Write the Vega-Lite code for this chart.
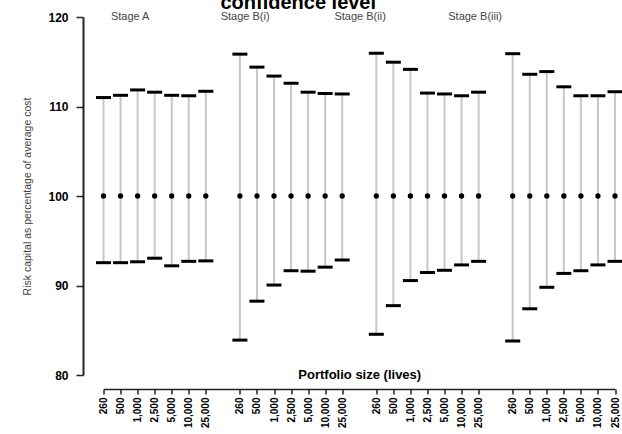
{
  "$schema": "https://vega.github.io/schema/vega-lite/v6.json",
  "width": 511.5,
  "height": 358,
  "autosize": {"type": "none"},
  "padding": {"left": 103.5, "top": 17, "right": 7, "bottom": 59},
  "background": "white",
  "config": {"font": "Liberation Sans", "view": {"stroke": null}},
  "title": {"text": "confidence level", "fontSize": 20, "fontWeight": "bold", "color": "black", "anchor": "middle", "frame": "group", "dx": -61, "dy": 6, "offset": 4},
  "datasets": {
    "ci": [
      {"key": "A|260", "stage": "Stage A", "size": "260", "low": 92.55, "high": 111.0, "mid": 100},
      {"key": "A|500", "stage": "Stage A", "size": "500", "low": 92.55, "high": 111.25, "mid": 100},
      {"key": "A|1,000", "stage": "Stage A", "size": "1,000", "low": 92.65, "high": 111.85, "mid": 100},
      {"key": "A|2,500", "stage": "Stage A", "size": "2,500", "low": 93.05, "high": 111.6, "mid": 100},
      {"key": "A|5,000", "stage": "Stage A", "size": "5,000", "low": 92.2, "high": 111.25, "mid": 100},
      {"key": "A|10,000", "stage": "Stage A", "size": "10,000", "low": 92.7, "high": 111.2, "mid": 100},
      {"key": "A|25,000", "stage": "Stage A", "size": "25,000", "low": 92.75, "high": 111.7, "mid": 100},
      {"key": "B(i)|260", "stage": "Stage B(i)", "size": "260", "low": 83.9, "high": 115.85, "mid": 100},
      {"key": "B(i)|500", "stage": "Stage B(i)", "size": "500", "low": 88.25, "high": 114.4, "mid": 100},
      {"key": "B(i)|1,000", "stage": "Stage B(i)", "size": "1,000", "low": 90.05, "high": 113.4, "mid": 100},
      {"key": "B(i)|2,500", "stage": "Stage B(i)", "size": "2,500", "low": 91.65, "high": 112.6, "mid": 100},
      {"key": "B(i)|5,000", "stage": "Stage B(i)", "size": "5,000", "low": 91.6, "high": 111.6, "mid": 100},
      {"key": "B(i)|10,000", "stage": "Stage B(i)", "size": "10,000", "low": 92.05, "high": 111.45, "mid": 100},
      {"key": "B(i)|25,000", "stage": "Stage B(i)", "size": "25,000", "low": 92.85, "high": 111.4, "mid": 100},
      {"key": "B(ii)|260", "stage": "Stage B(ii)", "size": "260", "low": 84.55, "high": 115.95, "mid": 100},
      {"key": "B(ii)|500", "stage": "Stage B(ii)", "size": "500", "low": 87.75, "high": 114.95, "mid": 100},
      {"key": "B(ii)|1,000", "stage": "Stage B(ii)", "size": "1,000", "low": 90.55, "high": 114.15, "mid": 100},
      {"key": "B(ii)|2,500", "stage": "Stage B(ii)", "size": "2,500", "low": 91.45, "high": 111.5, "mid": 100},
      {"key": "B(ii)|5,000", "stage": "Stage B(ii)", "size": "5,000", "low": 91.7, "high": 111.4, "mid": 100},
      {"key": "B(ii)|10,000", "stage": "Stage B(ii)", "size": "10,000", "low": 92.3, "high": 111.2, "mid": 100},
      {"key": "B(ii)|25,000", "stage": "Stage B(ii)", "size": "25,000", "low": 92.7, "high": 111.6, "mid": 100},
      {"key": "B(iii)|260", "stage": "Stage B(iii)", "size": "260", "low": 83.8, "high": 115.9, "mid": 100},
      {"key": "B(iii)|500", "stage": "Stage B(iii)", "size": "500", "low": 87.4, "high": 113.6, "mid": 100},
      {"key": "B(iii)|1,000", "stage": "Stage B(iii)", "size": "1,000", "low": 89.8, "high": 113.9, "mid": 100},
      {"key": "B(iii)|2,500", "stage": "Stage B(iii)", "size": "2,500", "low": 91.35, "high": 112.2, "mid": 100},
      {"key": "B(iii)|5,000", "stage": "Stage B(iii)", "size": "5,000", "low": 91.65, "high": 111.2, "mid": 100},
      {"key": "B(iii)|10,000", "stage": "Stage B(iii)", "size": "10,000", "low": 92.3, "high": 111.2, "mid": 100},
      {"key": "B(iii)|25,000", "stage": "Stage B(iii)", "size": "25,000", "low": 92.7, "high": 111.65, "mid": 100}
    ],
    "stages": [
      {"stage": "Stage A"},
      {"stage": "Stage B(i)"},
      {"stage": "Stage B(ii)"},
      {"stage": "Stage B(iii)"}
    ]
  },
  "layer": [
    {
      "data": {"name": "ci"},
      "encoding": {
        "x": {
          "field": "key",
          "type": "ordinal",
          "sort": null,
          "scale": {
            "type": "point",
            "padding": 0,
            "domain": ["A|260", "A|500", "A|1,000", "A|2,500", "A|5,000", "A|10,000", "A|25,000", "gap1",
                       "B(i)|260", "B(i)|500", "B(i)|1,000", "B(i)|2,500", "B(i)|5,000", "B(i)|10,000", "B(i)|25,000", "gap2",
                       "B(ii)|260", "B(ii)|500", "B(ii)|1,000", "B(ii)|2,500", "B(ii)|5,000", "B(ii)|10,000", "B(ii)|25,000", "gap3",
                       "B(iii)|260", "B(iii)|500", "B(iii)|1,000", "B(iii)|2,500", "B(iii)|5,000", "B(iii)|10,000", "B(iii)|25,000"]
          },
          "axis": {
            "values": ["A|260", "A|500", "A|1,000", "A|2,500", "A|5,000", "A|10,000", "A|25,000",
                       "B(i)|260", "B(i)|500", "B(i)|1,000", "B(i)|2,500", "B(i)|5,000", "B(i)|10,000", "B(i)|25,000",
                       "B(ii)|260", "B(ii)|500", "B(ii)|1,000", "B(ii)|2,500", "B(ii)|5,000", "B(ii)|10,000", "B(ii)|25,000",
                       "B(iii)|260", "B(iii)|500", "B(iii)|1,000", "B(iii)|2,500", "B(iii)|5,000", "B(iii)|10,000", "B(iii)|25,000"],
            "labelExpr": "split(datum.value, '|')[1]",
            "labelAngle": -90,
            "labelFontSize": 10,
            "labelFontWeight": "bold",
            "labelColor": "black",
            "labelPadding": 3,
            "labelOverlap": false,
            "labelBound": false,
            "offset": 14,
            "tickSize": 5,
            "tickColor": "#222",
            "tickWidth": 1.5,
            "domainColor": "#222",
            "domainWidth": 1.5,
            "grid": false,
            "title": "Portfolio size (lives)",
            "titleFontSize": 13,
            "titleFontWeight": "bold",
            "titleColor": "black",
            "titleY": -15,
            "titleBaseline": "middle"
          }
        }
      },
      "layer": [
        {
          "mark": {"type": "rule", "color": "#c8c8c8", "strokeWidth": 2},
          "encoding": {
            "y": {
              "field": "low",
              "type": "quantitative",
              "scale": {"domain": [80, 120], "nice": false, "zero": false},
              "axis": {
                "values": [80, 90, 100, 110, 120],
                "offset": 20.5,
                "tickSize": 7,
                "tickColor": "#222",
                "tickWidth": 1.5,
                "domainColor": "#222",
                "domainWidth": 2,
                "grid": false,
                "labelFontSize": 12,
                "labelFontWeight": "bold",
                "labelColor": "black",
                "labelPadding": 8,
                "title": "Risk capital as percentage of average cost",
                "titleFontSize": 10.5,
                "titleFontWeight": "normal",
                "titleColor": "#444",
                "titlePadding": 15
              }
            },
            "y2": {"field": "high"}
          }
        },
        {
          "mark": {"type": "tick", "color": "black", "size": 15, "thickness": 3, "opacity": 1},
          "encoding": {"y": {"field": "high", "type": "quantitative"}}
        },
        {
          "mark": {"type": "tick", "color": "black", "size": 15, "thickness": 3, "opacity": 1},
          "encoding": {"y": {"field": "low", "type": "quantitative"}}
        },
        {
          "mark": {"type": "point", "filled": true, "color": "black", "size": 28, "opacity": 1},
          "encoding": {"y": {"field": "mid", "type": "quantitative"}}
        }
      ]
    },
    {
      "data": {"name": "stages"},
      "mark": {"type": "text", "fontSize": 11, "color": "#444", "baseline": "middle", "align": "center"},
      "encoding": {
        "x": {
          "field": "stage",
          "type": "nominal",
          "sort": null,
          "scale": {"type": "point", "padding": 0.724, "align": 0.16},
          "axis": null
        },
        "y": {"datum": 120, "type": "quantitative"},
        "text": {"field": "stage"}
      }
    }
  ],
  "resolve": {"scale": {"x": "independent"}}
}
